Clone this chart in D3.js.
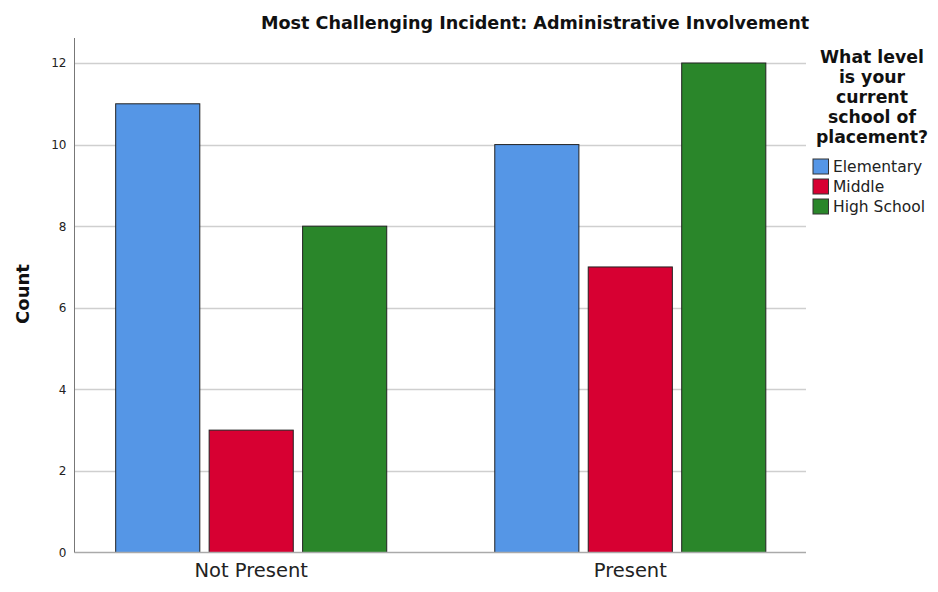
<!DOCTYPE html>
<html><head><meta charset="utf-8">
<script src="https://cdn.jsdelivr.net/npm/d3@7"></script>
<style>body{margin:0;background:#fff;} svg{display:block;}</style>
</head><body>
<svg id="c" width="938" height="592"></svg>
<script>
const categories = ["Not Present", "Present"];
const seriesNames = ["Elementary", "Middle", "High School"];
const elementary = [11, 10];
const middle = [3, 7];
const highSchool = [8, 12];
const yTicks = [0, 2, 4, 6, 8, 10, 12];
const colors = ["#5596e6", "#d70032", "#2a862a"];
const title = "Most Challenging Incident: Administrative Involvement";
const legendTitle = ["What level", "is your", "current", "school of", "placement?"];
const seriesVals = [elementary, middle, highSchool];

const svg = d3.select("#c");
const font = "'DejaVu Sans', sans-serif";
const L = 74.5, R = 806, T = 38, B = 552.5;

const y = d3.scaleLinear().domain([0, 12]).range([B, 63]);
const x0 = d3.scaleBand().domain(categories).range([L + 1, R]).paddingInner(0.285).paddingOuter(0.106);
const x1 = d3.scaleBand().domain(seriesNames).range([0, x0.bandwidth()]).paddingInner(0.1);

// grid
svg.append("g").selectAll("line").data(yTicks.filter(d => d > 0)).join("line")
  .attr("x1", L).attr("x2", R).attr("y1", d => Math.round(y(d)) + 0.5).attr("y2", d => Math.round(y(d)) + 0.5)
  .attr("stroke", "#cfcfcf").attr("stroke-width", 1.3);

// bars
categories.forEach((c, i) => {
  svg.append("g").selectAll("rect").data(seriesNames).join("rect")
    .attr("x", s => x0(c) + x1(s))
    .attr("width", x1.bandwidth())
    .attr("y", (s, j) => y(seriesVals[j][i]))
    .attr("height", (s, j) => B - y(seriesVals[j][i]))
    .attr("fill", (s, j) => colors[j])
    .attr("stroke", "#222").attr("stroke-width", 1);
});

// x baseline
svg.append("line").attr("x1", L).attr("x2", R).attr("y1", B).attr("y2", B).attr("stroke", "#aaa").attr("stroke-width", 1.3);

// y axis
const yAxis = d3.axisLeft(y).tickValues(yTicks).tickSize(0).tickPadding(8);
const yg = svg.append("g").attr("transform", `translate(${L},0)`).call(yAxis);
yg.select(".domain").remove();
yg.selectAll("text").attr("font-family", font).attr("font-size", 12).attr("fill", "#222");
svg.append("line").attr("x1", L).attr("x2", L).attr("y1", T).attr("y2", B).attr("stroke", "#777").attr("stroke-width", 1);

// x axis labels
const xAxis = d3.axisBottom(x0).tickSize(0).tickPadding(11);
const xg = svg.append("g").attr("transform", `translate(0,${B})`).call(xAxis);
xg.select(".domain").remove();
xg.selectAll("text").attr("font-family", font).attr("font-size", 19.5).attr("fill", "#222");

// title
svg.append("text").attr("x", 535).attr("y", 29).attr("text-anchor", "middle")
  .attr("font-family", font).attr("font-weight", "bold").attr("font-size", 17.6).attr("fill", "#111").text(title);

// y label
svg.append("text").attr("transform", "translate(29,294) rotate(-90)").attr("text-anchor", "middle")
  .attr("font-family", font).attr("font-weight", "bold").attr("font-size", 18).attr("fill", "#111").text("Count");

// legend
const lg = svg.append("g");
lg.selectAll("text.t").data(legendTitle).join("text").attr("class", "t")
  .attr("x", 872).attr("y", (d, i) => 63 + i * 20).attr("text-anchor", "middle")
  .attr("font-family", font).attr("font-weight", "bold").attr("font-size", 17.3).attr("fill", "#111").text(d => d);
const items = lg.selectAll("g.i").data(seriesNames).join("g").attr("class", "i")
  .attr("transform", (d, i) => `translate(813,${159 + i * 20})`);
items.append("rect").attr("width", 15.5).attr("height", 15).attr("fill", (d, i) => colors[i]).attr("stroke", "#333").attr("stroke-width", 1);
items.append("text").attr("x", 20).attr("y", 13).attr("font-family", font).attr("font-size", 15.5).attr("fill", "#222").text(d => d);
</script>
</body></html>
